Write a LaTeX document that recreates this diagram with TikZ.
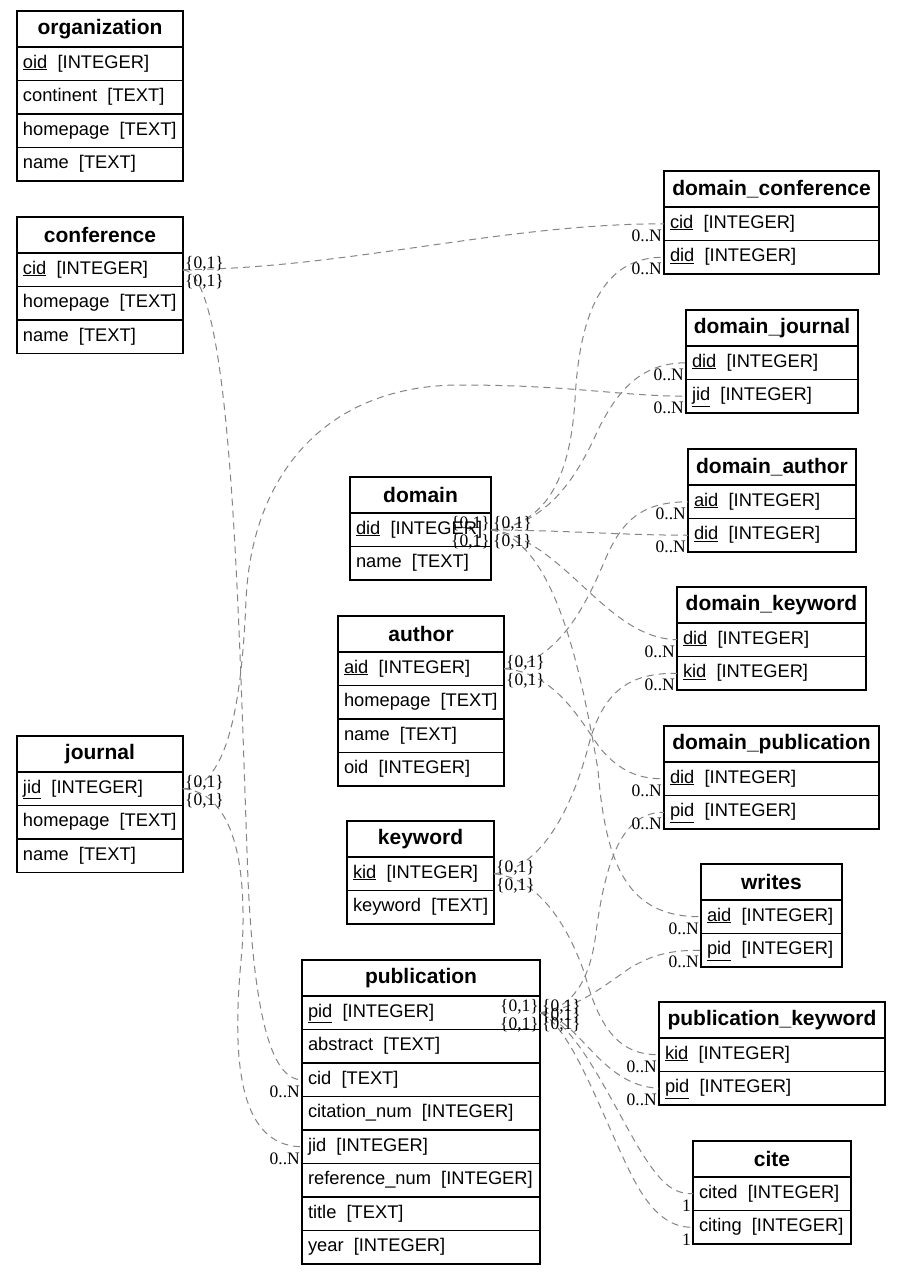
\documentclass[tikz,border=0pt]{standalone}
\usepackage{fontspec}
\setmainfont{Liberation Serif}
\setsansfont{Liberation Sans}

% table header: #1 name, #2 left x, #3 top y, #4 width, #5 title
\newcommand\tablehead[5]{\node[hdr, minimum width=#4pt] (#1) at (#2,#3) {#5};}
% table field row: #1 name, #2 row above, #3 width, #4 text
\newcommand\tablerow[4]{\node[fld, minimum width=#3pt] (#1) at (#2.south west) {\makebox[\dimexpr#3pt-12pt\relax][l]{#4}};}

\begin{document}
\begin{tikzpicture}[x=1pt,y=-1pt,
  hdr/.style={draw, line width=1.35pt, anchor=north west, inner sep=0pt, outer sep=0pt,
    minimum height=36pt, font=\sffamily\bfseries\fontsize{21}{24}\selectfont},
  fld/.style={draw, line width=1.35pt, anchor=north west, inner xsep=6pt,
    inner ysep=0pt, outer sep=0pt, minimum height=33.5pt, text height=13pt, text depth=4.5pt,
    font=\sffamily\fontsize{18.3}{21}\selectfont},
  rel/.style={draw=black!48, line width=1pt, dash pattern=on 7pt off 5pt},
  card/.style={inner sep=0pt, font=\rmfamily\fontsize{17.5}{18}\selectfont}]

\fill[white] (0,0) rectangle (901,1275);
\useasboundingbox (0,0) rectangle (901,1275);

% ---- tables on the left
\tablehead{org}{17}{11}{166}{organization}
\tablerow{org-oid}{org}{166}{\underline{oid}~~[INTEGER]}
\tablerow{org-continent}{org-oid}{166}{continent~~[TEXT]}
\tablerow{org-homepage}{org-continent}{166}{homepage~~[TEXT]}
\tablerow{org-name}{org-homepage}{166}{name~~[TEXT]}

\tablehead{conf}{17}{217}{166}{conference}
\tablerow{conf-cid}{conf}{166}{\underline{cid}~~[INTEGER]}
\tablerow{conf-homepage}{conf-cid}{166}{homepage~~[TEXT]}
\tablerow{conf-name}{conf-homepage}{166}{name~~[TEXT]}

\tablehead{jour}{17}{736}{166}{journal}
\tablerow{jour-jid}{jour}{166}{\underline{jid}~~[INTEGER]}
\tablerow{jour-homepage}{jour-jid}{166}{homepage~~[TEXT]}
\tablerow{jour-name}{jour-homepage}{166}{name~~[TEXT]}

% ---- middle tables
\tablehead{dom}{350}{477}{141}{domain}
\tablerow{dom-did}{dom}{141}{\underline{did}~~[INTEGER]}
\tablerow{dom-name}{dom-did}{141}{name~~[TEXT]}

\tablehead{auth}{338}{616}{166}{author}
\tablerow{auth-aid}{auth}{166}{\underline{aid}~~[INTEGER]}
\tablerow{auth-homepage}{auth-aid}{166}{homepage~~[TEXT]}
\tablerow{auth-name}{auth-homepage}{166}{name~~[TEXT]}
\tablerow{auth-oid}{auth-name}{166}{oid~~[INTEGER]}

\tablehead{kw}{347}{821}{147}{keyword}
\tablerow{kw-kid}{kw}{147}{\underline{kid}~~[INTEGER]}
\tablerow{kw-keyword}{kw-kid}{147}{keyword~~[TEXT]}

\tablehead{pub}{302}{960}{238}{publication}
\tablerow{pub-pid}{pub}{238}{\underline{pid}~~[INTEGER]}
\tablerow{pub-abstract}{pub-pid}{238}{abstract~~[TEXT]}
\tablerow{pub-cid}{pub-abstract}{238}{cid~~[TEXT]}
\tablerow{pub-citnum}{pub-cid}{238}{citation\_num~~[INTEGER]}
\tablerow{pub-jid}{pub-citnum}{238}{jid~~[INTEGER]}
\tablerow{pub-refnum}{pub-jid}{238}{reference\_num~~[INTEGER]}
\tablerow{pub-title}{pub-refnum}{238}{title~~[TEXT]}
\tablerow{pub-year}{pub-title}{238}{year~~[INTEGER]}

% ---- link tables on the right
\tablehead{dc}{664}{171}{215}{domain\_conference}
\tablerow{dc-cid}{dc}{215}{\underline{cid}~~[INTEGER]}
\tablerow{dc-did}{dc-cid}{215}{\underline{did}~~[INTEGER]}

\tablehead{dj}{686}{310}{172}{domain\_journal}
\tablerow{dj-did}{dj}{172}{\underline{did}~~[INTEGER]}
\tablerow{dj-jid}{dj-did}{172}{\underline{jid}~~[INTEGER]}

\tablehead{da}{688}{449}{168}{domain\_author}
\tablerow{da-aid}{da}{168}{\underline{aid}~~[INTEGER]}
\tablerow{da-did}{da-aid}{168}{\underline{did}~~[INTEGER]}

\tablehead{dk}{677}{587}{189}{domain\_keyword}
\tablerow{dk-did}{dk}{189}{\underline{did}~~[INTEGER]}
\tablerow{dk-kid}{dk-did}{189}{\underline{kid}~~[INTEGER]}

\tablehead{dp}{664}{726}{215}{domain\_publication}
\tablerow{dp-did}{dp}{215}{\underline{did}~~[INTEGER]}
\tablerow{dp-pid}{dp-did}{215}{\underline{pid}~~[INTEGER]}

\tablehead{wr}{701}{864}{141}{writes}
\tablerow{wr-aid}{wr}{141}{\underline{aid}~~[INTEGER]}
\tablerow{wr-pid}{wr-aid}{141}{\underline{pid}~~[INTEGER]}

\tablehead{pk}{659}{1002}{226}{publication\_keyword}
\tablerow{pk-kid}{pk}{226}{\underline{kid}~~[INTEGER]}
\tablerow{pk-pid}{pk-kid}{226}{\underline{pid}~~[INTEGER]}

\tablehead{ci}{693}{1141}{158}{cite}
\tablerow{ci-cited}{ci}{158}{cited~~[INTEGER]}
\tablerow{ci-citing}{ci-cited}{158}{citing~~[INTEGER]}

% ---- relationships
\draw[rel] (conf-cid.east) .. controls (350,268) and (500,224) .. (dc-cid.west);
\draw[rel] (conf-cid.east) .. controls (232,274) and (238,600) .. (248,880)
  .. controls (254,1010) and (270,1080) .. (pub-cid.west);
\draw[rel] (jour-jid.east) .. controls (228,789) and (242,700) .. (246,600)
  .. controls (252,470) and (330,385) .. (460,385)
  .. controls (570,385) and (620,396) .. (dj-jid.west);
\draw[rel] (jour-jid.east) .. controls (228,792) and (248,850) .. (242,950)
  .. controls (232,1050) and (235,1146) .. (pub-jid.west);
\draw[rel] (dom-did.east) .. controls (545,525) and (570,480) .. (575,400)
  .. controls (580,300) and (610,257) .. (dc-did.west);
\draw[rel] (dom-did.east) .. controls (550,525) and (580,470) .. (598,430)
  .. controls (620,385) and (645,363) .. (dj-did.west);
\draw[rel] (dom-did.east) .. controls (580,531) and (620,535) .. (da-did.west);
\draw[rel] (dom-did.east) .. controls (565,540) and (605,638) .. (dk-did.west);
\draw[rel] (dom-did.east) .. controls (550,540) and (578,650) .. (598,770)
  .. controls (606,870) and (630,917) .. (wr-aid.west);
\draw[rel] (auth-aid.east) .. controls (560,662) and (588,600) .. (605,560)
  .. controls (622,520) and (642,502) .. (da-aid.west);
\draw[rel] (auth-aid.east) .. controls (555,672) and (580,720) .. (600,748)
  .. controls (620,772) and (640,779) .. (dp-did.west);
\draw[rel] (kw-kid.east) .. controls (545,868) and (575,800) .. (590,740)
  .. controls (605,690) and (630,673) .. (dk-kid.west);
\draw[rel] (kw-kid.east) .. controls (540,878) and (570,930) .. (585,975)
  .. controls (600,1030) and (620,1055) .. (pk-kid.west);
\draw[rel] (pub-pid.east) .. controls (570,1008) and (588,985) .. (595,940)
  .. controls (605,860) and (622,812) .. (dp-pid.west);
\draw[rel] (pub-pid.east) .. controls (575,1010) and (605,985) .. (630,968)
  .. controls (652,955) and (670,950) .. (wr-pid.west);
\draw[rel] (pub-pid.east) .. controls (580,1018) and (600,1086) .. (pk-pid.west);
\draw[rel] (pub-pid.east) .. controls (575,1020) and (610,1100) .. (640,1150)
  .. controls (660,1182) and (672,1194) .. (ci-cited.west);
\draw[rel] (pub-pid.east) .. controls (570,1025) and (600,1110) .. (628,1168)
  .. controls (648,1210) and (668,1228) .. (ci-citing.west);

% ---- cardinalities at the referenced keys
\node[card, anchor=west, xshift=2pt, yshift=6pt]   (t-conf-a) at (conf-cid.east) {\{0,1\}};
\node[card, anchor=west, xshift=2pt, yshift=-12pt] (t-conf-b) at (conf-cid.east) {\{0,1\}};
\node[card, anchor=west, xshift=2pt, yshift=6pt]   (t-jour-a) at (jour-jid.east) {\{0,1\}};
\node[card, anchor=west, xshift=2pt, yshift=-12pt] (t-jour-b) at (jour-jid.east) {\{0,1\}};
\node[card, anchor=east, xshift=-1pt, yshift=6pt]  (t-dom-a) at (dom-did.east) {\{0,1\}};
\node[card, anchor=east, xshift=-1pt, yshift=-12pt](t-dom-b) at (dom-did.east) {\{0,1\}};
\node[card, anchor=west, xshift=2pt, yshift=6pt]   (t-dom-c) at (dom-did.east) {\{0,1\}};
\node[card, anchor=west, xshift=2pt, yshift=-12pt] (t-dom-d) at (dom-did.east) {\{0,1\}};
\node[card, anchor=west, xshift=2pt, yshift=6pt]   (t-auth-a) at (auth-aid.east) {\{0,1\}};
\node[card, anchor=west, xshift=2pt, yshift=-12pt] (t-auth-b) at (auth-aid.east) {\{0,1\}};
\node[card, anchor=west, xshift=2pt, yshift=6pt]   (t-kw-a) at (kw-kid.east) {\{0,1\}};
\node[card, anchor=west, xshift=2pt, yshift=-12pt] (t-kw-b) at (kw-kid.east) {\{0,1\}};
\node[card, anchor=east, xshift=-1pt, yshift=6pt]  (t-pub-a) at (pub-pid.east) {\{0,1\}};
\node[card, anchor=east, xshift=-1pt, yshift=-12pt](t-pub-b) at (pub-pid.east) {\{0,1\}};
\node[card, anchor=west, xshift=2pt, yshift=6pt]   (t-pub-c) at (pub-pid.east) {\{0,1\}};
\node[card, anchor=west, xshift=2pt, yshift=-3pt]  (t-pub-d) at (pub-pid.east) {\{0,1\}};
\node[card, anchor=west, xshift=2pt, yshift=-12pt] (t-pub-e) at (pub-pid.east) {\{0,1\}};

% ---- cardinalities at the referencing columns
\foreach \f in {dc-cid,dc-did,dj-did,dj-jid,da-aid,da-did,dk-did,dk-kid,
                dp-did,dp-pid,wr-aid,wr-pid,pk-kid,pk-pid,pub-cid,pub-jid}
  \node[card, anchor=east, xshift=-2pt, yshift=-12pt] (h-\f) at (\f.west) {0..N};
\node[card, anchor=east, xshift=-2pt, yshift=-12pt] (h-ci-cited) at (ci-cited.west) {1};
\node[card, anchor=east, xshift=-2pt, yshift=-12pt] (h-ci-citing) at (ci-citing.west) {1};

\end{tikzpicture}
\end{document}
